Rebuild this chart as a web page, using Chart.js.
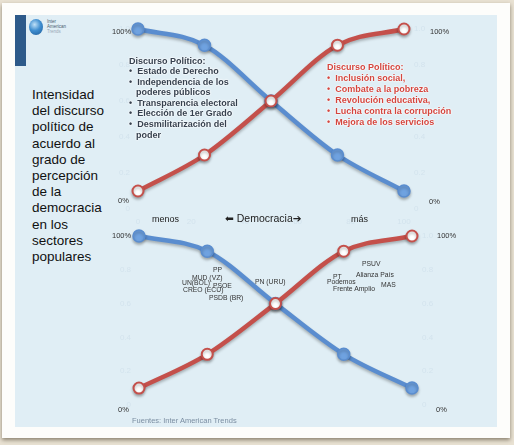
<!DOCTYPE html>
<html>
<head>
<meta charset="utf-8">
<script src="https://cdn.jsdelivr.net/npm/chart.js@4"></script>
<style>
  html, body { margin: 0; padding: 0; }
  body {
    width: 514px; height: 445px; overflow: hidden; position: relative;
    background: #e9e2d3;
    font-family: "Liberation Sans", Arial, sans-serif;
  }
  .card {
    position: absolute; left: 2px; top: 3px; width: 508px; height: 435px;
    background: #fdfdfb; box-shadow: 0 2px 4px rgba(60,50,30,0.55);
  }
  .panel {
    position: absolute; left: 15px; top: 15px; width: 482px; height: 412px;
    background: #e0eef5;
  }
  .barra { position: absolute; left: 15px; top: 15px; width: 11px; height: 51px; background: #2d5a8a; }
  .globo {
    position: absolute; left: 29px; top: 19px; width: 14px; height: 16px; border-radius: 50%;
    background: radial-gradient(circle at 40% 35%, #bfe0f7 0%, #3f8ed0 45%, #1d5a96 100%);
  }
  .logo { position: absolute; left: 47px; top: 19px; font-size: 4.5px; line-height: 5px; color: #4a5d70; }
  .logo span { color: #9aa8b5; }
  canvas { position: absolute; }
  .titulo {
    position: absolute; left: 32px; top: 87px; font-size: 13.5px; line-height: 16.2px; color: #111;
  }
  .caja { position: absolute; font-weight: bold; font-size: 9px; white-space: nowrap;
    text-shadow: 0 0 2px #fff, 0 0 2px #fff, 0 0 1px #fff; }
  .caja div.b { padding-left: 7px; text-indent: -7px; }
  .azul { left: 129px; top: 55.5px; line-height: 10.6px; color: #36414f; }
  .rojo { left: 327px; top: 61.5px; line-height: 11px; color: #d4463f; }
  .t { position: absolute; white-space: nowrap; color: #222; }
  .pct { font-size: 7.5px; color: #333; }
  .part { font-size: 6.8px; color: #333; }
  .fuente { position: absolute; left: 132px; top: 416px; font-size: 7.5px; color: #7b8ea2; }
</style>
</head>
<body>
<div class="card"></div>
<div class="panel"></div>
<div class="barra"></div>
<div class="globo"></div>
<div class="logo">Inter<br>American<br><span>Trends</span></div>

<div class="titulo">Intensidad<br>del discurso<br>político de<br>acuerdo al<br>grado de<br>percepción<br>de la<br>democracia<br>en los<br>sectores<br>populares</div>

<canvas id="grafSup" width="364" height="228" style="left:98px;top:8px;width:364px;height:228px"></canvas>
<canvas id="grafInf" width="372" height="215" style="left:98px;top:220px;width:372px;height:215px"></canvas>

<div class="caja azul">
  <div>Discurso Político:</div>
  <div class="b">•&nbsp; Estado de Derecho</div>
  <div class="b">•&nbsp; Independencia de los<br>poderes públicos</div>
  <div class="b">•&nbsp; Transparencia electoral</div>
  <div class="b">•&nbsp; Elección de 1er Grado</div>
  <div class="b">•&nbsp; Desmilitarización del<br>poder</div>
</div>
<div class="caja rojo">
  <div>Discurso Político:</div>
  <div class="b">•&nbsp; Inclusión social,</div>
  <div class="b">•&nbsp; Combate a la pobreza</div>
  <div class="b">•&nbsp; Revolución educativa,</div>
  <div class="b">•&nbsp; Lucha contra la corrupción</div>
  <div class="b">•&nbsp; Mejora de los servicios</div>
</div>

<div class="t pct" style="left:112px;top:27px">100%</div>
<div class="t pct" style="left:118px;top:196px">0%</div>
<div class="t pct" style="left:430px;top:27px">100%</div>
<div class="t pct" style="left:429px;top:197px">0%</div>
<div class="t pct" style="left:112px;top:231px">100%</div>
<div class="t pct" style="left:118px;top:405px">0%</div>
<div class="t pct" style="left:437px;top:231px">100%</div>
<div class="t pct" style="left:436px;top:405px">0%</div>

<div class="t" style="left:152px;top:214px;font-size:9px">menos</div>
<div class="t" style="left:225px;top:212px;font-size:10.5px"><span style="font-family:'DejaVu Sans'">⬅</span> Democracia<span style="font-family:'DejaVu Sans'">➔</span></div>
<div class="t" style="left:351px;top:214px;font-size:9px">más</div>

<div class="t part" style="left:213px;top:266px">PP</div>
<div class="t part" style="left:192px;top:274px">MUD (VZ)</div>
<div class="t part" style="left:182px;top:279px">UN(BOL)</div>
<div class="t part" style="left:213px;top:282px">PSOE</div>
<div class="t part" style="left:183px;top:286px">CREO (ECU)</div>
<div class="t part" style="left:209px;top:294px">PSDB (BR)</div>
<div class="t part" style="left:255px;top:278px">PN (URU)</div>
<div class="t part" style="left:362px;top:260px">PSUV</div>
<div class="t part" style="left:356px;top:271px">Alianza País</div>
<div class="t part" style="left:333px;top:273px">PT</div>
<div class="t part" style="left:327px;top:278px">Podemos</div>
<div class="t part" style="left:381px;top:281px">MAS</div>
<div class="t part" style="left:333px;top:285px">Frente Amplio</div>

<div class="fuente">Fuentes: Inter American Trends</div>

<script>
// datos (grado de percepcion de la democracia, 0 = menos, 100 = mas)
const posiciones = [0, 25, 50, 75, 100];
const discursoInstitucional = [1.0, 0.91, 0.6, 0.3, 0.1];   // azul
const discursoSocial = [0.1, 0.3, 0.6, 0.91, 1.0];          // rojo
const ticksX = [0, 20, 40, 60, 80, 100];
const ticksY = [0, 0.2, 0.4, 0.6, 0.8, 1];

// etiquetas de ejes casi invisibles, como en el original
const tenue = '#d3e3ed';

// sombra suave bajo las lineas
const sombra = {
  id: 'sombra',
  beforeDatasetsDraw(chart) {
    const ctx = chart.ctx;
    ctx.save();
    ctx.shadowColor = 'rgba(0,0,0,0.28)';
    ctx.shadowBlur = 3;
    ctx.shadowOffsetY = 2;
  },
  afterDatasetsDraw(chart) { chart.ctx.restore(); }
};

function puntos(valores) {
  return posiciones.map((x, i) => ({ x: x, y: valores[i] }));
}

function crearGrafico(id, izq, der, arriba, abajo, conEjeX) {
  return new Chart(document.getElementById(id), {
    type: 'line',
    data: {
      datasets: [{
        label: 'Discurso social',
        data: puntos(discursoSocial),
        borderColor: '#c4504b',
        borderWidth: 4.5,
        pointBackgroundColor: '#ffffff',
        pointBorderColor: '#c4504b',
        pointBorderWidth: 2,
        pointRadius: 5.5,
        cubicInterpolationMode: 'monotone',
        clip: false
      }, {
        label: 'Discurso institucional',
        data: puntos(discursoInstitucional),
        borderColor: '#5a8dcf',
        borderWidth: 4.5,
        pointBackgroundColor: '#6fa2e0',
        pointBorderColor: '#5a8dcf',
        pointBorderWidth: 1.5,
        pointRadius: 6,
        cubicInterpolationMode: 'monotone',
        clip: false
      }]
    },
    options: {
      responsive: false,
      animation: false,
      events: [],
      layout: { padding: { left: 0, right: 0, top: arriba, bottom: conEjeX ? 0 : abajo } },
      plugins: { legend: { display: false }, tooltip: { enabled: false } },
      scales: {
        x: {
          type: 'linear', min: 0, max: 100,
          display: conEjeX,
          afterFit: (eje) => { eje.height = abajo; },
          afterBuildTicks: (eje) => { eje.ticks = ticksX.map(v => ({ value: v })); },
          grid: { display: false, drawTicks: false },
          border: { display: false },
          ticks: { color: tenue, font: { size: 8 }, padding: 8 }
        },
        y: {
          position: 'left', min: 0, max: 1,
          afterFit: (eje) => { eje.width = izq; },
          afterBuildTicks: (eje) => { eje.ticks = ticksY.map(v => ({ value: v })); },
          grid: { display: false, drawTicks: false },
          border: { display: false },
          ticks: { color: tenue, font: { size: 8 }, padding: 8 }
        },
        y2: {
          position: 'right', min: 0, max: 1,
          afterFit: (eje) => { eje.width = der; },
          afterBuildTicks: (eje) => { eje.ticks = ticksY.map(v => ({ value: v })); },
          grid: { display: false, drawTicks: false },
          border: { display: false },
          ticks: { color: tenue, font: { size: 8 }, padding: 10 }
        }
      }
    },
    plugins: [sombra]
  });
}

crearGrafico('grafSup', 40, 58, 21, 27, true);
crearGrafico('grafInf', 41, 58, 16, 15, false);
</script>
</body>
</html>
